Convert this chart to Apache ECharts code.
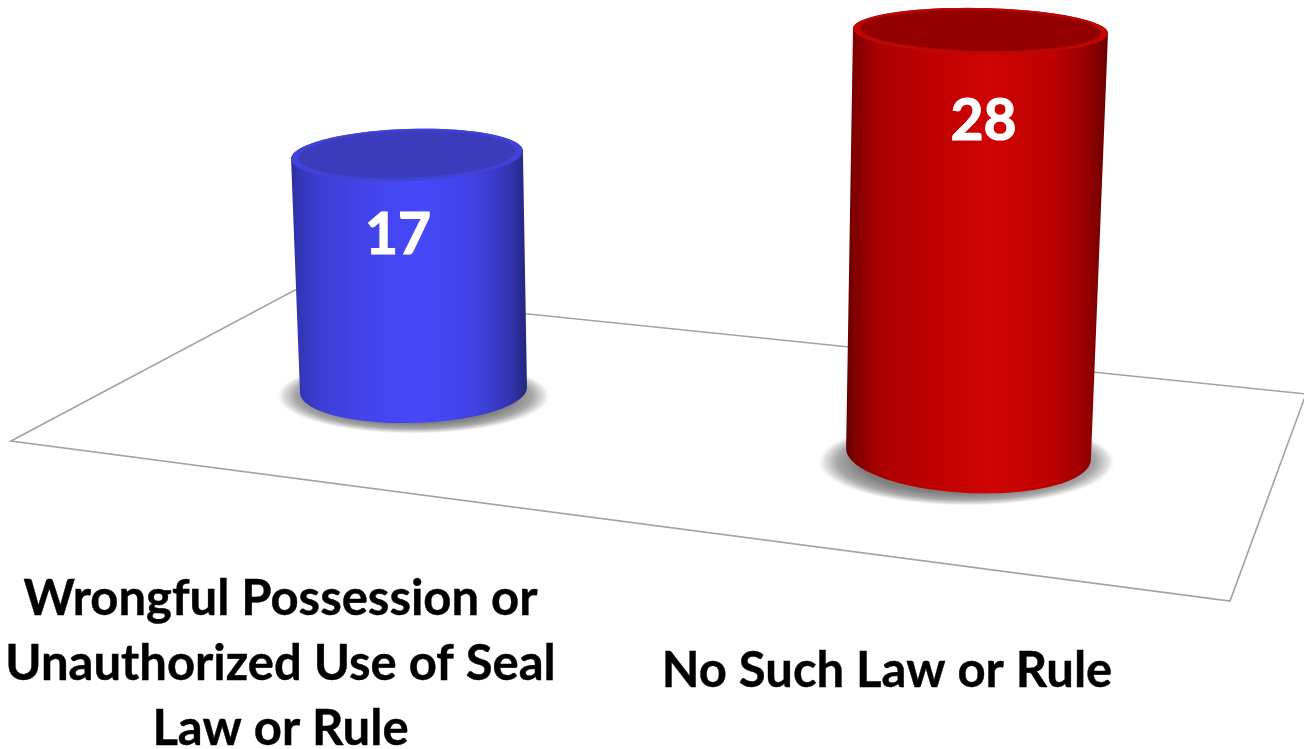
<!DOCTYPE html>
<html><head><meta charset="utf-8">
<style>html,body{margin:0;padding:0;background:#fff}#c{width:1304px;height:749px}</style>
<script src="https://cdn.jsdelivr.net/npm/echarts@6/dist/echarts.min.js"></script>
</head><body><div id="c"></div>
<script>
const categories = ['Wrongful Possession or\nUnauthorized Use of Seal\nLaw or Rule', 'No Such Law or Rule'];
const values = [17, 28];
const FONT = 'Lato, "Open Sans", sans-serif';
const looks = [
  { grid:{left:300,top:155,width:227,height:235,outerBoundsMode:'none'}, topScale:232/227, topShift:-6.5, topRy:26, baseRy:33,
    topTilt:-2, baseTilt:-1.5, labelDx:-9, labelDy:81, labelPad:[0,266,0,0], labelMargin:177,
    side:[[0,'#2b2d9c'],[0.03,'#3335b4'],[0.12,'#3b3dd2'],[0.3,'#4244e8'],[0.55,'#4648fb'],[0.78,'#4042e4'],[0.92,'#3335b4'],[1,'#24267f']],
    cap:'#3a3cbc', rim:'#4143d8', shadow:{dx:0,dy:6,rx:138,ry:38} },
  { grid:{left:846,top:31,width:245,height:423,outerBoundsMode:'none'}, topScale:255/245, topShift:12, topRy:23, baseRy:39,
    topTilt:1.1, baseTilt:2.8, labelDx:3, labelDy:91, labelPad:[0,163,0,0], labelMargin:185,
    side:[[0,'#600000'],[0.03,'#800000'],[0.12,'#a80000'],[0.3,'#bc0000'],[0.55,'#d00404'],[0.8,'#bc0000'],[0.92,'#960000'],[1,'#680000']],
    cap:'#920000', rim:'#c00606', shadow:{dx:-2,dy:8,rx:150,ry:44} }
];
function ring(cx,cy,rx,ry,deg,from,to,n){
  const a=deg*Math.PI/180,pts=[];
  for(let i=0;i<=n;i++){
    const t=from+(to-from)*i/n,x=rx*Math.cos(t),y=ry*Math.sin(t);
    pts.push([cx+x*Math.cos(a)-y*Math.sin(a),cy+x*Math.sin(a)+y*Math.cos(a)]);
  }
  return pts;
}
function cylinder(look){
  return function(params,api){
    const base=api.coord([api.value(0),0]);
    const top=api.coord([api.value(0),api.value(1)]);
    const band=api.size([1,0])[0];
    const rb=band/2, rt=rb*look.topScale, tx=base[0]+look.topShift;
    const body=[].concat(
      ring(tx,top[1],rt,look.topRy,look.topTilt,Math.PI,2*Math.PI,40),
      ring(base[0],base[1],rb,look.baseRy,look.baseTilt,0,Math.PI,60)
    );
    const s=look.shadow;
    return {type:'group',children:[
      {type:'circle',x:base[0]+s.dx,y:base[1]+s.dy,scaleY:s.ry/s.rx,shape:{cx:0,cy:0,r:s.rx},
       style:{fill:{type:'radial',x:0.5,y:0.5,r:0.5,colorStops:[{offset:0,color:'#7a7a7a'},{offset:0.72,color:'#808080'},{offset:0.86,color:'#a8a8a8'},{offset:0.95,color:'#e4e4e4'},{offset:1,color:'rgba(255,255,255,0)'}]}}},
      {type:'polygon',shape:{points:body},
       style:{fill:{type:'linear',x:0,y:0,x2:1,y2:0,colorStops:look.side.map(d=>({offset:d[0],color:d[1]}))}}},
      {type:'polygon',shape:{points:ring(tx,top[1],rt,look.topRy,look.topTilt,0,2*Math.PI,90)},style:{fill:look.rim}},
      {type:'polygon',shape:{points:ring(tx,top[1]-0.5,rt-8,look.topRy-3,look.topTilt,0,2*Math.PI,90)},
       style:{fill:look.cap,shadowColor:look.cap,shadowBlur:3}},
      {type:'text',style:{x:tx+look.labelDx,y:top[1]+look.labelDy,text:String(api.value(1)),fill:'#fff',
        stroke:'#fff',lineWidth:1.2,font:'bold 57px '+FONT,align:'center',verticalAlign:'middle'}}
    ]};
  };
}
const option={
  animation:false,
  backgroundColor:'#fff',
  graphic:{elements:[{type:'polygon',z:0,shape:{points:[[11,441],[295,290],[1306,394],[1230,601]]},
    style:{fill:'#fff',stroke:'#a2a2a2',lineWidth:1.6}}]},
  grid:looks.map(l=>l.grid),
  xAxis:looks.map((l,i)=>({gridIndex:i,type:'category',data:[categories[i]],
    axisLine:{show:false},axisTick:{show:false},splitLine:{show:false},
    axisLabel:{interval:0,hideOverlap:false,color:'#000',fontFamily:FONT,fontWeight:'bold',fontSize:49,lineHeight:65,
      textBorderColor:'#000',textBorderWidth:0.4,
      margin:l.labelMargin,padding:l.labelPad,align:'center',verticalAlign:'top'}})),
  yAxis:looks.map((l,i)=>({gridIndex:i,type:'value',min:0,max:values[i],show:false})),
  series:looks.map((l,i)=>({type:'custom',xAxisIndex:i,yAxisIndex:i,z:5,clip:false,
    data:[[categories[i],values[i]]],encode:{x:0,y:1},renderItem:cylinder(l)}))
};
echarts.init(document.getElementById('c'),null,{renderer:'canvas'}).setOption(option);
</script></body></html>
